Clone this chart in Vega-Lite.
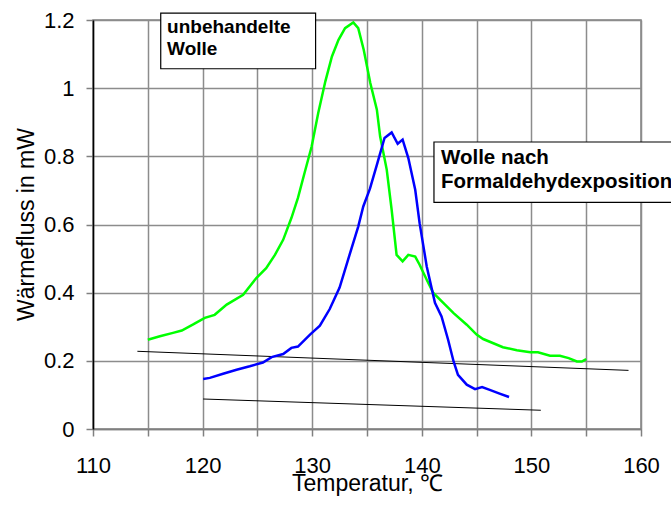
{
  "$schema": "https://vega.github.io/schema/vega-lite/v6.json",
  "width": 548,
  "height": 409,
  "autosize": {"type": "none"},
  "padding": {"left": 93, "top": 20, "right": 30, "bottom": 76},
  "background": "white",
  "config": {
    "view": {"stroke": "#808080", "strokeWidth": 1.5},
    "font": "Liberation Sans"
  },
  "datasets": {
    "curves": [
      {"series": "unbehandelte Wolle", "x": 115.0, "y": 0.262},
      {"series": "unbehandelte Wolle", "x": 116.1, "y": 0.272},
      {"series": "unbehandelte Wolle", "x": 117.3, "y": 0.282},
      {"series": "unbehandelte Wolle", "x": 118.1, "y": 0.289},
      {"series": "unbehandelte Wolle", "x": 119.1, "y": 0.306},
      {"series": "unbehandelte Wolle", "x": 120.2, "y": 0.326},
      {"series": "unbehandelte Wolle", "x": 121.1, "y": 0.335},
      {"series": "unbehandelte Wolle", "x": 122.2, "y": 0.365},
      {"series": "unbehandelte Wolle", "x": 123.7, "y": 0.394},
      {"series": "unbehandelte Wolle", "x": 124.9, "y": 0.443},
      {"series": "unbehandelte Wolle", "x": 125.8, "y": 0.472},
      {"series": "unbehandelte Wolle", "x": 126.6, "y": 0.511},
      {"series": "unbehandelte Wolle", "x": 127.35, "y": 0.555},
      {"series": "unbehandelte Wolle", "x": 128.1, "y": 0.619},
      {"series": "unbehandelte Wolle", "x": 128.7, "y": 0.678},
      {"series": "unbehandelte Wolle", "x": 129.3, "y": 0.751},
      {"series": "unbehandelte Wolle", "x": 129.95, "y": 0.829},
      {"series": "unbehandelte Wolle", "x": 130.55, "y": 0.927},
      {"series": "unbehandelte Wolle", "x": 131.2, "y": 1.02},
      {"series": "unbehandelte Wolle", "x": 131.8, "y": 1.093},
      {"series": "unbehandelte Wolle", "x": 132.4, "y": 1.142},
      {"series": "unbehandelte Wolle", "x": 133.0, "y": 1.176},
      {"series": "unbehandelte Wolle", "x": 133.75, "y": 1.193},
      {"series": "unbehandelte Wolle", "x": 134.2, "y": 1.176},
      {"series": "unbehandelte Wolle", "x": 134.7, "y": 1.113},
      {"series": "unbehandelte Wolle", "x": 135.3, "y": 1.015},
      {"series": "unbehandelte Wolle", "x": 135.9, "y": 0.937},
      {"series": "unbehandelte Wolle", "x": 136.2, "y": 0.858},
      {"series": "unbehandelte Wolle", "x": 136.8, "y": 0.761},
      {"series": "unbehandelte Wolle", "x": 137.25, "y": 0.643},
      {"series": "unbehandelte Wolle", "x": 137.7, "y": 0.511},
      {"series": "unbehandelte Wolle", "x": 138.25, "y": 0.492},
      {"series": "unbehandelte Wolle", "x": 138.77, "y": 0.511},
      {"series": "unbehandelte Wolle", "x": 139.4, "y": 0.506},
      {"series": "unbehandelte Wolle", "x": 139.8, "y": 0.482},
      {"series": "unbehandelte Wolle", "x": 140.45, "y": 0.438},
      {"series": "unbehandelte Wolle", "x": 141.05, "y": 0.399},
      {"series": "unbehandelte Wolle", "x": 141.96, "y": 0.37},
      {"series": "unbehandelte Wolle", "x": 142.9, "y": 0.34},
      {"series": "unbehandelte Wolle", "x": 144.1, "y": 0.306},
      {"series": "unbehandelte Wolle", "x": 145.0, "y": 0.277},
      {"series": "unbehandelte Wolle", "x": 145.6, "y": 0.264},
      {"series": "unbehandelte Wolle", "x": 147.4, "y": 0.24},
      {"series": "unbehandelte Wolle", "x": 148.67, "y": 0.231},
      {"series": "unbehandelte Wolle", "x": 149.9, "y": 0.225},
      {"series": "unbehandelte Wolle", "x": 150.6, "y": 0.225},
      {"series": "unbehandelte Wolle", "x": 151.7, "y": 0.215},
      {"series": "unbehandelte Wolle", "x": 152.6, "y": 0.215},
      {"series": "unbehandelte Wolle", "x": 153.4, "y": 0.208},
      {"series": "unbehandelte Wolle", "x": 154.15, "y": 0.198},
      {"series": "unbehandelte Wolle", "x": 154.6, "y": 0.198},
      {"series": "unbehandelte Wolle", "x": 155.0, "y": 0.205},
      {"series": "Wolle nach Formaldehydexposition", "x": 120.05, "y": 0.147},
      {"series": "Wolle nach Formaldehydexposition", "x": 120.66, "y": 0.15},
      {"series": "Wolle nach Formaldehydexposition", "x": 121.87, "y": 0.162},
      {"series": "Wolle nach Formaldehydexposition", "x": 123.1, "y": 0.174},
      {"series": "Wolle nach Formaldehydexposition", "x": 124.3, "y": 0.184},
      {"series": "Wolle nach Formaldehydexposition", "x": 125.5, "y": 0.195},
      {"series": "Wolle nach Formaldehydexposition", "x": 126.3, "y": 0.211},
      {"series": "Wolle nach Formaldehydexposition", "x": 127.35, "y": 0.22},
      {"series": "Wolle nach Formaldehydexposition", "x": 128.1, "y": 0.238},
      {"series": "Wolle nach Formaldehydexposition", "x": 128.7, "y": 0.242},
      {"series": "Wolle nach Formaldehydexposition", "x": 129.8, "y": 0.277},
      {"series": "Wolle nach Formaldehydexposition", "x": 130.7, "y": 0.303},
      {"series": "Wolle nach Formaldehydexposition", "x": 131.6, "y": 0.352},
      {"series": "Wolle nach Formaldehydexposition", "x": 132.5, "y": 0.415},
      {"series": "Wolle nach Formaldehydexposition", "x": 133.4, "y": 0.51},
      {"series": "Wolle nach Formaldehydexposition", "x": 134.2, "y": 0.594},
      {"series": "Wolle nach Formaldehydexposition", "x": 134.66, "y": 0.653},
      {"series": "Wolle nach Formaldehydexposition", "x": 135.27, "y": 0.705},
      {"series": "Wolle nach Formaldehydexposition", "x": 135.9, "y": 0.775},
      {"series": "Wolle nach Formaldehydexposition", "x": 136.6, "y": 0.854},
      {"series": "Wolle nach Formaldehydexposition", "x": 137.25, "y": 0.87},
      {"series": "Wolle nach Formaldehydexposition", "x": 137.8, "y": 0.837},
      {"series": "Wolle nach Formaldehydexposition", "x": 138.25, "y": 0.849},
      {"series": "Wolle nach Formaldehydexposition", "x": 138.77, "y": 0.795},
      {"series": "Wolle nach Formaldehydexposition", "x": 139.4, "y": 0.702},
      {"series": "Wolle nach Formaldehydexposition", "x": 139.8, "y": 0.604},
      {"series": "Wolle nach Formaldehydexposition", "x": 140.45, "y": 0.477},
      {"series": "Wolle nach Formaldehydexposition", "x": 141.2, "y": 0.37},
      {"series": "Wolle nach Formaldehydexposition", "x": 141.8, "y": 0.33},
      {"series": "Wolle nach Formaldehydexposition", "x": 142.4, "y": 0.262},
      {"series": "Wolle nach Formaldehydexposition", "x": 142.9, "y": 0.198},
      {"series": "Wolle nach Formaldehydexposition", "x": 143.3, "y": 0.159},
      {"series": "Wolle nach Formaldehydexposition", "x": 144.1, "y": 0.13},
      {"series": "Wolle nach Formaldehydexposition", "x": 144.86, "y": 0.117},
      {"series": "Wolle nach Formaldehydexposition", "x": 145.5, "y": 0.123},
      {"series": "Wolle nach Formaldehydexposition", "x": 146.2, "y": 0.115},
      {"series": "Wolle nach Formaldehydexposition", "x": 147.1, "y": 0.104},
      {"series": "Wolle nach Formaldehydexposition", "x": 147.96, "y": 0.094}
    ],
    "baselines": [
      {"id": "A", "x": 114.05, "y": 0.228},
      {"id": "A", "x": 158.86, "y": 0.172},
      {"id": "B", "x": 120.05, "y": 0.088},
      {"id": "B", "x": 150.86, "y": 0.055}
    ],
    "boxes": [
      {"box": 1, "x": 116.18, "x2": 130.31, "y": 1.2203, "y2": 1.0569},
      {"box": 2, "x": 141.11, "x2": 166, "y": 0.842, "y2": 0.665}
    ],
    "labels": [
      {"box": 1, "text": "unbehandelte", "x": 116.76, "y": 1.1616},
      {"box": 1, "text": "Wolle", "x": 116.76, "y": 1.0959},
      {"box": 2, "text": "Wolle nach", "x": 141.75, "y": 0.778},
      {"box": 2, "text": "Formaldehydexposition", "x": 141.75, "y": 0.706}
    ]
  },
  "layer": [
    {
      "data": {"name": "baselines"},
      "mark": {"type": "line", "color": "black", "strokeWidth": 1},
      "encoding": {
        "x": {
          "field": "x",
          "type": "quantitative",
          "scale": {"domain": [110, 160], "nice": false, "zero": false},
          "axis": {
            "values": [110, 115, 120, 125, 130, 135, 140, 145, 150, 155, 160],
            "labelExpr": "datum.value % 10 === 0 ? datum.label : ''",
            "grid": true,
            "gridColor": "#8c8c8c",
            "gridWidth": 1.5,
            "tickColor": "#808080",
            "tickSize": 7,
            "tickWidth": 1.5,
            "domainColor": "#808080",
            "domainWidth": 1.5,
            "labelFontSize": 22,
            "labelColor": "black",
            "labelBaseline": "alphabetic",
            "labelPadding": 36,
            "labelFlush": false,
            "labelOverlap": false,
            "title": "Temperatur, ℃",
            "titleFontSize": 23,
            "titleFontWeight": "normal",
            "titleColor": "black",
            "titleX": 274,
            "titleY": 61,
            "titleBaseline": "alphabetic",
            "titleAlign": "center"
          }
        },
        "y": {
          "field": "y",
          "type": "quantitative",
          "scale": {"domain": [0, 1.2], "nice": false, "zero": false},
          "axis": {
            "values": [0, 0.1, 0.2, 0.3, 0.4, 0.5, 0.6, 0.7, 0.8, 0.9, 1, 1.1, 1.2],
            "labelExpr": "round(datum.value * 10) % 2 === 0 ? format(datum.value, '~g') : ''",
            "grid": true,
            "gridColor": "#8c8c8c",
            "gridWidth": 1.5,
            "tickColor": "#808080",
            "tickSize": 7,
            "tickWidth": 1.5,
            "domainColor": "black",
            "domainWidth": 1.5,
            "labelFontSize": 22,
            "labelColor": "black",
            "labelPadding": 12,
            "labelFlush": false,
            "labelOverlap": false,
            "title": "Wärmefluss in mW",
            "titleFontSize": 23,
            "titleFontWeight": "normal",
            "titleColor": "black",
            "titleX": -60,
            "titleY": 204,
            "titleAngle": 270,
            "titleBaseline": "alphabetic",
            "titleAlign": "center"
          }
        },
        "detail": {"field": "id"}
      }
    },
    {
      "data": {"name": "curves"},
      "mark": {"type": "line", "strokeWidth": 2.5},
      "encoding": {
        "x": {"field": "x", "type": "quantitative"},
        "y": {"field": "y", "type": "quantitative"},
        "color": {
          "field": "series",
          "type": "nominal",
          "scale": {"domain": ["unbehandelte Wolle", "Wolle nach Formaldehydexposition"], "range": ["#00ff00", "#0000ff"]},
          "legend": null
        }
      }
    },
    {
      "data": {"name": "boxes"},
      "mark": {"type": "rect", "fill": "white", "stroke": "black", "strokeWidth": 1.2},
      "encoding": {
        "x": {"field": "x", "type": "quantitative"},
        "y": {"field": "y", "type": "quantitative"},
        "x2": {"field": "x2"},
        "y2": {"field": "y2"}
      }
    },
    {
      "data": {"name": "labels"},
      "transform": [{"filter": "datum.box === 1"}],
      "mark": {"type": "text", "align": "left", "baseline": "alphabetic", "fontWeight": "bold", "fontSize": 19, "color": "black"},
      "encoding": {
        "x": {"field": "x", "type": "quantitative"},
        "y": {"field": "y", "type": "quantitative"},
        "text": {"field": "text"}
      }
    },
    {
      "data": {"name": "labels"},
      "transform": [{"filter": "datum.box === 2"}],
      "mark": {"type": "text", "align": "left", "baseline": "alphabetic", "fontWeight": "bold", "fontSize": 20.5, "color": "black"},
      "encoding": {
        "x": {"field": "x", "type": "quantitative"},
        "y": {"field": "y", "type": "quantitative"},
        "text": {"field": "text"}
      }
    }
  ]
}
